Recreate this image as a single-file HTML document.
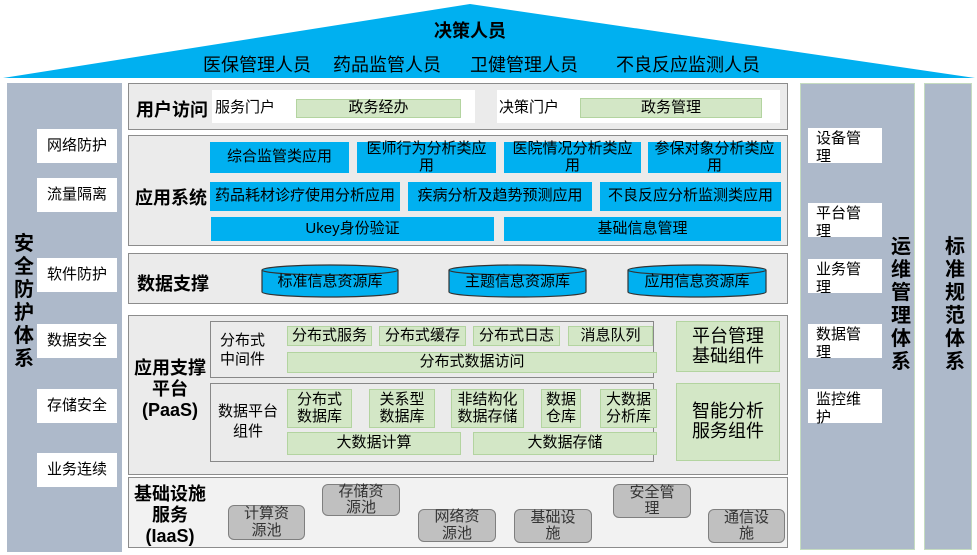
<!DOCTYPE html>
<html><head><meta charset="utf-8"><style>
body{margin:0;width:977px;height:555px;position:relative;background:#fff;font-family:"Liberation Sans","Noto Sans CJK SC",sans-serif;overflow:hidden}
div{position:absolute;box-sizing:border-box}
.c{display:flex;align-items:center;justify-content:center;text-align:center;line-height:1.1}
.w{background:#fff;font-size:15px;color:#000}
.lay{background:#ebebeb;border:1.5px solid #8c8c8c}
.b{background:#00b0f0;font-size:15px;color:#000}
.g{background:#d3e7c6;border:1px solid #b3d4a0;font-size:15px}
.gr{background:#c0c0c0;border:1.5px solid #7f7f7f;border-radius:6px;font-size:15px;color:#333}
.t{font-weight:bold;font-size:18px}
.v{font-weight:bold;font-size:20px;width:26px;line-height:23px;text-align:center}
.wl{display:block;padding:2px 8px;font-size:15px;line-height:18px;text-align:left}
</style></head><body>
<svg style="position:absolute;left:0;top:0" width="977" height="80"><polygon points="3,78 470,4 975,78" fill="#00b0f0"/></svg>
<div class="c" style="left:420px;top:22px;width:100px;font-weight:bold;font-size:18px">决策人员</div>
<div style="left:203px;top:51px;font-size:18px;white-space:nowrap">医保管理人员</div>
<div style="left:333px;top:51px;font-size:18px;white-space:nowrap">药品监管人员</div>
<div style="left:470px;top:51px;font-size:18px;white-space:nowrap">卫健管理人员</div>
<div style="left:616px;top:51px;font-size:18px;white-space:nowrap">不良反应监测人员</div>

<div style="left:7px;top:83px;width:115px;height:469px;background:#adb9ca"></div>
<div class="v" style="left:11px;top:233px">安全防护体系</div>
<div class="c w" style="left:37px;top:129px;width:80px;height:34px">网络防护</div>
<div class="c w" style="left:37px;top:178px;width:80px;height:34px">流量隔离</div>
<div class="c w" style="left:37px;top:258px;width:80px;height:34px">软件防护</div>
<div class="c w" style="left:37px;top:324px;width:80px;height:34px">数据安全</div>
<div class="c w" style="left:37px;top:389px;width:80px;height:34px">存储安全</div>
<div class="c w" style="left:37px;top:453px;width:80px;height:34px">业务连续</div>

<div style="left:800px;top:83px;width:115px;height:467px;background:#adb9ca;border:1px solid #c5dcc0"></div>
<div class="v" style="left:888px;top:236px">运维管理体系</div>
<div class="w wl" style="left:808px;top:128px;width:74px;height:35px">设备管理</div>
<div class="w wl" style="left:808px;top:203px;width:74px;height:34px">平台管理</div>
<div class="w wl" style="left:808px;top:259px;width:74px;height:34px">业务管理</div>
<div class="w wl" style="left:808px;top:324px;width:74px;height:34px">数据管理</div>
<div class="w wl" style="left:808px;top:389px;width:74px;height:34px">监控维护</div>
<div style="left:924px;top:83px;width:48px;height:467px;background:#adb9ca;border:1px solid #c5dcc0"></div>
<div class="v" style="left:942px;top:236px">标准规范体系</div>

<div class="lay" style="left:128px;top:83px;width:660px;height:47px"></div>
<div class="t" style="left:136px;top:96px">用户访问</div>
<div class="w" style="left:212px;top:90px;width:263px;height:33px"></div>
<div style="left:215px;top:96px;font-size:15px">服务门户</div>
<div class="c g" style="left:296px;top:99px;width:165px;height:19px">政务经办</div>
<div class="w" style="left:497px;top:90px;width:283px;height:33px"></div>
<div style="left:499px;top:96px;font-size:15px">决策门户</div>
<div class="c g" style="left:580px;top:98px;width:182px;height:20px">政务管理</div>

<div class="lay" style="left:128px;top:135px;width:660px;height:111px"></div>
<div class="t" style="left:135px;top:184px">应用系统</div>
<div class="c b" style="left:210px;top:142px;width:139px;height:31px">综合监管类应用</div>
<div class="c b" style="left:357px;top:142px;width:139px;height:31px;padding:0 4px">医师行为分析类应用</div>
<div class="c b" style="left:504px;top:142px;width:137px;height:31px;padding:0 4px">医院情况分析类应用</div>
<div class="c b" style="left:648px;top:142px;width:133px;height:31px;padding:0 2px">参保对象分析类应用</div>
<div class="c b" style="left:210px;top:182px;width:190px;height:29px">药品耗材诊疗使用分析应用</div>
<div class="c b" style="left:408px;top:182px;width:184px;height:29px">疾病分析及趋势预测应用</div>
<div class="c b" style="left:600px;top:182px;width:181px;height:29px">不良反应分析监测类应用</div>
<div class="c b" style="left:211px;top:217px;width:283px;height:24px">Ukey身份验证</div>
<div class="c b" style="left:504px;top:217px;width:277px;height:24px">基础信息管理</div>

<div class="lay" style="left:128px;top:253px;width:660px;height:51px"></div>
<div class="t" style="left:137px;top:270px">数据支撑</div>
<svg style="position:absolute;left:0;top:0" width="977" height="555">
<g fill="#00b0f0" stroke="#333" stroke-width="1.2">
<path d="M262,270 v22 a68,5 0 0 0 136,0 v-22"/><ellipse cx="330" cy="270" rx="68" ry="5"/>
<path d="M449,270 v22 a68,5 0 0 0 137,0 v-22"/><ellipse cx="517.5" cy="270" rx="68.5" ry="5"/>
<path d="M628,270 v22 a69,5 0 0 0 138,0 v-22"/><ellipse cx="697" cy="270" rx="69" ry="5"/>
</g></svg>
<div class="c" style="left:262px;top:272px;width:136px;height:20px;font-size:15px">标准信息资源库</div>
<div class="c" style="left:449px;top:272px;width:137px;height:20px;font-size:15px">主题信息资源库</div>
<div class="c" style="left:628px;top:272px;width:138px;height:20px;font-size:15px">应用信息资源库</div>

<div class="lay" style="left:128px;top:315px;width:660px;height:160px"></div>
<div class="c t" style="left:130px;top:358px;width:80px;height:62px;line-height:21px">应用支撑<br>平台<br>(PaaS)</div>
<div style="left:210px;top:321px;width:444px;height:57px;border:1px solid #888;background:#ebebeb"></div>
<div style="left:220px;top:331px;font-size:15px;line-height:19px">分布式<br>中间件</div>
<div class="c g" style="left:287px;top:326px;width:85px;height:20px">分布式服务</div>
<div class="c g" style="left:379px;top:326px;width:87px;height:20px">分布式缓存</div>
<div class="c g" style="left:473px;top:326px;width:87px;height:20px">分布式日志</div>
<div class="c g" style="left:568px;top:326px;width:85px;height:20px">消息队列</div>
<div class="c g" style="left:287px;top:352px;width:370px;height:21px">分布式数据访问</div>
<div style="left:210px;top:383px;width:444px;height:79px;border:1px solid #888;background:#ebebeb"></div>
<div style="left:218px;top:402px;font-size:15px;line-height:20px;text-align:center">数据平台<br>组件</div>
<div class="c g" style="left:287px;top:389px;width:65px;height:39px">分布式<br>数据库</div>
<div class="c g" style="left:369px;top:389px;width:66px;height:39px">关系型<br>数据库</div>
<div class="c g" style="left:451px;top:389px;width:73px;height:39px">非结构化<br>数据存储</div>
<div class="c g" style="left:541px;top:389px;width:40px;height:39px">数据<br>仓库</div>
<div class="c g" style="left:600px;top:389px;width:57px;height:39px">大数据<br>分析库</div>
<div class="c g" style="left:287px;top:432px;width:174px;height:23px">大数据计算</div>
<div class="c g" style="left:473px;top:432px;width:184px;height:23px">大数据存储</div>
<div class="c g" style="left:676px;top:321px;width:104px;height:51px;font-size:18px">平台管理<br>基础组件</div>
<div class="c g" style="left:676px;top:383px;width:104px;height:78px;font-size:18px">智能分析<br>服务组件</div>

<div style="left:128px;top:477px;width:660px;height:71px;background:#f2f2f2;border:1.5px solid #8c8c8c"></div>
<div class="c t" style="left:130px;top:483px;width:80px;height:64px;line-height:21px">基础设施<br>服务<br>(IaaS)</div>
<div class="c gr" style="left:228px;top:505px;width:77px;height:35px">计算资<br>源池</div>
<div class="c gr" style="left:322px;top:484px;width:78px;height:32px">存储资<br>源池</div>
<div class="c gr" style="left:418px;top:509px;width:78px;height:33px">网络资<br>源池</div>
<div class="c gr" style="left:514px;top:509px;width:78px;height:34px">基础设<br>施</div>
<div class="c gr" style="left:613px;top:484px;width:78px;height:34px">安全管<br>理</div>
<div class="c gr" style="left:708px;top:509px;width:77px;height:34px">通信设<br>施</div>
</body></html>
